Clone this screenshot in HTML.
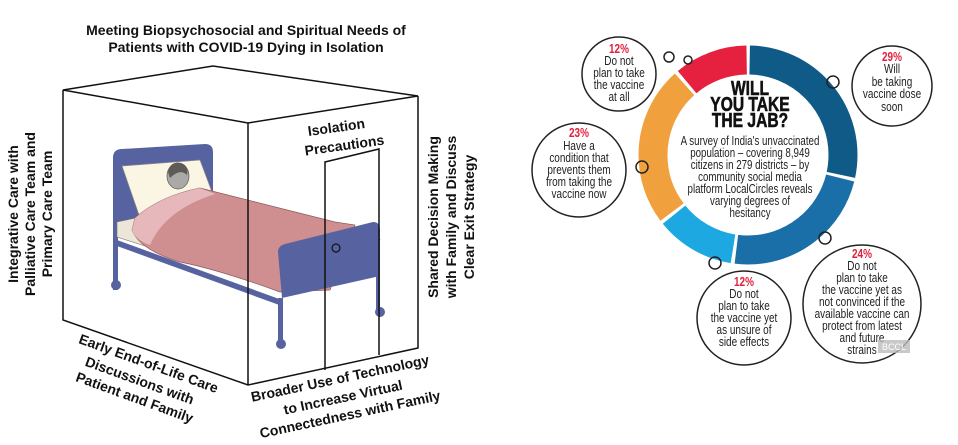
<!DOCTYPE html>
<html><head><meta charset="utf-8"><style>
html,body{margin:0;padding:0;background:#fff;}
svg{display:block;}
.b{font-family:"Liberation Sans",sans-serif;font-weight:bold;font-size:14px;fill:#111;}
.n{font-family:"Liberation Sans",sans-serif;font-size:12.5px;fill:#222;}
.r{fill:#e0213c;font-weight:bold;}
</style></head><body>
<svg width="958" height="445" viewBox="0 0 958 445" xmlns="http://www.w3.org/2000/svg">
<rect width="958" height="445" fill="#fff"/>
<text class="b" x="246" y="35" text-anchor="middle">Meeting Biopsychosocial and Spiritual Needs of</text>
<text class="b" x="246" y="52" text-anchor="middle">Patients with COVID-19 Dying in Isolation</text>

<g>
<path d="M113,158 Q113,149 122,149 L205,144 Q213,144 213,152 L213,230 L118,232 L118,290 L113,290 Z" fill="#5763a0"/>
<path d="M122,166 L200,160 L212,192 L140,218 Z" fill="#fbf5e3" stroke="#888" stroke-width="0.7"/>
<circle cx="116" cy="285" r="5" fill="#5763a0"/>
<path d="M117,222 L150,215 L380,240 L282,290 L117,237 Z" fill="#ece6d6" stroke="#777" stroke-width="0.6"/>
<path d="M117,240 L282,300 L282,306 L117,246 Z" fill="#5763a0"/>
<ellipse cx="178" cy="176" rx="11" ry="13" fill="#a9aaa6" stroke="#555" stroke-width="0.7"/>
<path d="M168,172 Q170,161 181,163 Q189,166 187,175 Q180,168 170,178 Z" fill="#5e5a56"/>
<path d="M135,218 Q160,196 200,188 L335,222 L355,225 L330,290 L280,292 Q220,270 180,262 Q140,250 132,230 Z" fill="#cf8f90" stroke="#8a5a5a" stroke-width="0.7"/>
<path d="M135,218 Q160,196 200,188 L215,194 Q165,210 150,245 Q135,240 132,230 Z" fill="#e6b8bb"/>
<path d="M285,244 L373,222 Q380,222 380,230 L380,276 L282,298 L278,252 Q278,246 285,244 Z" fill="#5763a0"/>
<rect x="278" y="298" width="5" height="45" fill="#5763a0"/>
<circle cx="281" cy="344" r="5" fill="#5763a0"/>
<rect x="376" y="276" width="4" height="34" fill="#5763a0"/>
<circle cx="380" cy="312" r="5" fill="#5763a0"/>
<circle cx="336" cy="248" r="4" fill="none" stroke="#111" stroke-width="1.2"/>
</g>

<g fill="none" stroke="#111" stroke-width="1.5">
<path d="M63,90 L213,66 L418,96 L248,123 Z"/>
<path d="M63,90 L63,320 L248,385 L418,348 L418,96"/>
<path d="M248,123 L248,385"/>
<path d="M325,370 L325,162 L379,149 L379,355"/>
</g>
<text class="b" transform="translate(337,132) rotate(-8)" text-anchor="middle">Isolation</text>
<text class="b" transform="translate(345,150) rotate(-8)" text-anchor="middle">Precautions</text>

<text class="b" transform="translate(18,214) rotate(-90)" text-anchor="middle">Integrative Care with</text>
<text class="b" transform="translate(35,214) rotate(-90)" text-anchor="middle">Palliative Care Team and</text>
<text class="b" transform="translate(52,214) rotate(-90)" text-anchor="middle">Primary Care Team</text>
<text class="b" transform="translate(438,217) rotate(-90)" text-anchor="middle">Shared Decision Making</text>
<text class="b" transform="translate(456,217) rotate(-90)" text-anchor="middle">with Family and Discuss</text>
<text class="b" transform="translate(474,217) rotate(-90)" text-anchor="middle">Clear Exit Strategy</text>
<text class="b" transform="translate(147,368) rotate(20)" text-anchor="middle">Early End-of-Life Care</text>
<text class="b" transform="translate(138,385) rotate(20)" text-anchor="middle">Discussions with</text>
<text class="b" transform="translate(133,402) rotate(20)" text-anchor="middle">Patient and Family</text>
<text class="b" transform="translate(341,383) rotate(-12)" text-anchor="middle">Broader Use of Technology</text>
<text class="b" transform="translate(344,402) rotate(-12)" text-anchor="middle">to Increase Virtual</text>
<text class="b" transform="translate(351,419) rotate(-12)" text-anchor="middle">Connectedness with Family</text>

<g transform="translate(748,155) rotate(-90)" fill="none" stroke-width="29">
<circle r="95" stroke="#0f5a86" stroke-dasharray="167.5 1000" stroke-dashoffset="-1.7"/>
<circle r="95" stroke="#1b6fa8" stroke-dasharray="137.6 1000" stroke-dashoffset="-172.4"/>
<circle r="95" stroke="#1ea8e2" stroke-dasharray="69.6 1000" stroke-dashoffset="-313.4"/>
<circle r="95" stroke="#f1a03e" stroke-dasharray="140.9 1000" stroke-dashoffset="-386.3"/>
<circle r="95" stroke="#e6203f" stroke-dasharray="64.7 1000" stroke-dashoffset="-530.6"/>
</g>
<g transform="translate(750,0) scale(0.78,1)" font-family="Liberation Sans,sans-serif" font-weight="bold" font-size="20" fill="#111" text-anchor="middle" stroke="#111" stroke-width="0.6">
<text x="0" y="95">WILL</text>
<text x="0" y="111">YOU TAKE</text>
<text x="0" y="127">THE JAB?</text>
</g>
<g class="n" text-anchor="middle" transform="translate(750,0) scale(0.78,1)">
<text x="0" y="145">A survey of India's unvaccinated</text>
<text x="0" y="157">population – covering 8,949</text>
<text x="0" y="169">citizens in 279 districts – by</text>
<text x="0" y="181">community social media</text>
<text x="0" y="193">platform LocalCircles reveals</text>
<text x="0" y="205">varying degrees of</text>
<text x="0" y="217">hesitancy</text>
</g>

<g fill="none" stroke="#222" stroke-width="1.5">
<circle cx="619" cy="74" r="37"/>
<circle cx="892" cy="86" r="40"/>
<circle cx="579" cy="170" r="47"/>
<circle cx="744" cy="318" r="47"/>
<circle cx="862" cy="304" r="59"/>
<circle cx="669" cy="57" r="5"/>
<circle cx="688" cy="60" r="4"/>
<circle cx="833" cy="82" r="6"/>
<circle cx="642" cy="167" r="6"/>
<circle cx="825" cy="238" r="6"/>
<circle cx="715" cy="263" r="6"/>
</g>
<g class="n" text-anchor="middle" transform="translate(619,0) scale(0.8,1)">
<text class="r" x="0" y="53">12%</text>
<text x="0" y="65">Do not</text>
<text x="0" y="77">plan to take</text>
<text x="0" y="89">the vaccine</text>
<text x="0" y="101">at all</text>
</g>
<g class="n" text-anchor="middle" transform="translate(892,0) scale(0.8,1)">
<text class="r" x="0" y="61">29%</text>
<text x="0" y="73">Will</text>
<text x="0" y="86">be taking</text>
<text x="0" y="98">vaccine dose</text>
<text x="0" y="111">soon</text>
</g>
<g class="n" text-anchor="middle" transform="translate(579,0) scale(0.8,1)">
<text class="r" x="0" y="137">23%</text>
<text x="0" y="150">Have a</text>
<text x="0" y="162">condition that</text>
<text x="0" y="174">prevents them</text>
<text x="0" y="186">from taking the</text>
<text x="0" y="198">vaccine now</text>
</g>
<g class="n" text-anchor="middle" transform="translate(744,0) scale(0.8,1)">
<text class="r" x="0" y="286">12%</text>
<text x="0" y="298">Do not</text>
<text x="0" y="310">plan to take</text>
<text x="0" y="322">the vaccine yet</text>
<text x="0" y="334">as unsure of</text>
<text x="0" y="346">side effects</text>
</g>
<g class="n" text-anchor="middle" transform="translate(862,0) scale(0.8,1)">
<text class="r" x="0" y="258">24%</text>
<text x="0" y="270">Do not</text>
<text x="0" y="282">plan to take</text>
<text x="0" y="294">the vaccine yet as</text>
<text x="0" y="306">not convinced if the</text>
<text x="0" y="318">available vaccine can</text>
<text x="0" y="330">protect from latest</text>
<text x="0" y="342">and future</text>
<text x="0" y="354">strains</text>
</g>
<rect x="878" y="340" width="32" height="13" fill="#bbb" opacity="0.8"/>
<text x="894" y="350" font-family="Liberation Sans,sans-serif" font-size="9" fill="#fff" text-anchor="middle">BCCL</text>
</svg>
</body></html>
